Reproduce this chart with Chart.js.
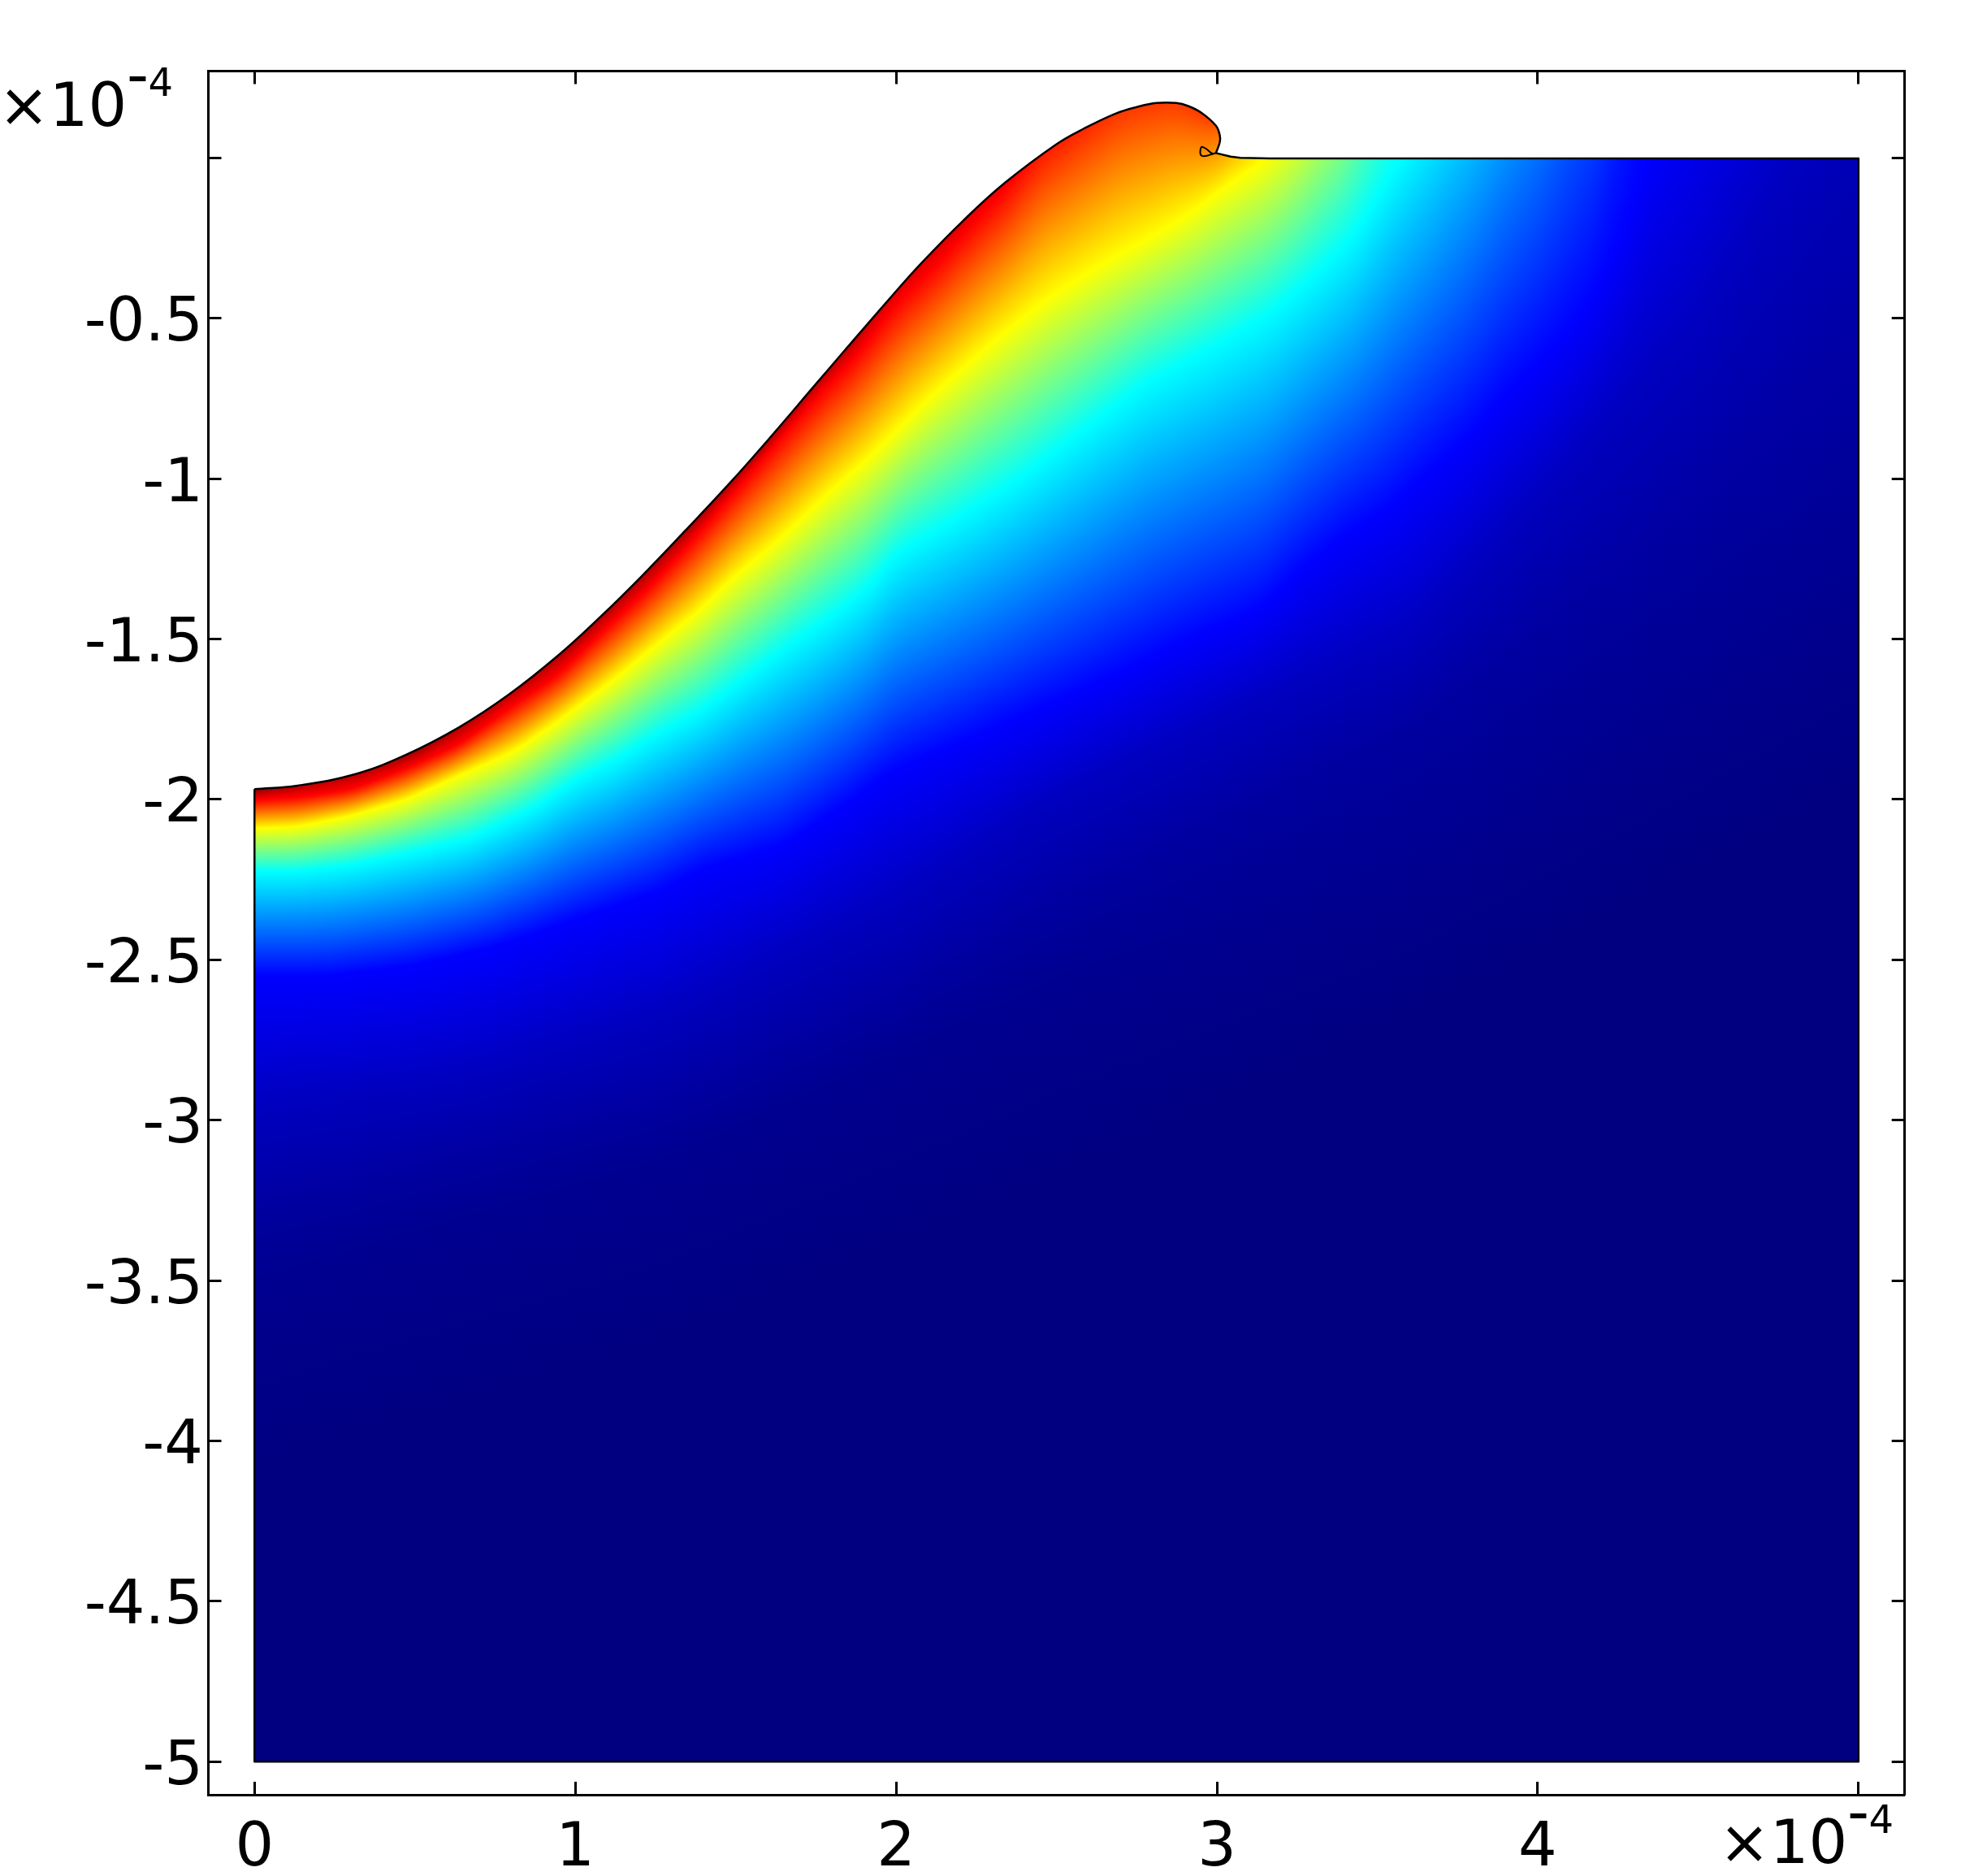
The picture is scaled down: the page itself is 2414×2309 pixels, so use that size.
<!DOCTYPE html>
<html>
<head>
<meta charset="utf-8">
<style>html,body{margin:0;padding:0;background:#fff}canvas{display:block}</style>
<script src="https://cdn.jsdelivr.net/npm/chart.js@4"></script>
</head>
<body>
<canvas id="c" width="2414" height="2309"></canvas>
<script>
// Axis ticks (units of 1e-4)
const xTicks = [0,1,2,3,4,5];
const xTickLabels = ['0','1','2','3','4',''];
const yTicks = [0,-0.5,-1,-1.5,-2,-2.5,-3,-3.5,-4,-4.5,-5];
const yTickLabels = ['','-0.5','-1','-1.5','-2','-2.5','-3','-3.5','-4','-4.5','-5'];

// Domain outline pieces (x, y)
const surfaceX = [0,0.134,0.315,0.47,0.638,0.793,0.948,1.077,1.206,1.342,1.486,1.615,1.744,1.835,1.977,2.08,2.21,2.339,2.499,2.583,2.684,2.752,2.811,2.874,2.912,2.954,2.997,3.009,3.009,2.997];
const surfaceY = [-1.968,-1.957,-1.921,-1.862,-1.775,-1.673,-1.55,-1.432,-1.305,-1.163,-1.009,-0.863,-0.712,-0.606,-0.442,-0.327,-0.195,-0.078,0.042,0.09,0.138,0.159,0.171,0.171,0.161,0.139,0.1,0.07,0.049,0.015];
const loopX = [2.997,2.971,2.954,2.948,2.952,2.967,2.984,2.997];
const loopY = [0.015,0.007,0.006,0.015,0.034,0.028,0.014,0.015];
const flatX = [2.997,3.043,3.073,3.165,5];
const flatY = [0.015,0.004,0,-0.002,-0.002];
const boxX = [5,5,0,0];
const boxY = [-0.002,-5,-5,-1.968];

// Colour contours of the field (above-surface parts set the surface colour)
const darkX = [0,0.5,1,1.375,1.615,1.874,2.003,2.339,2.455,2.713,3.2,3.4,3.5,3.573,4.336,5];
const darkY = [-1.966,-1.838,-1.475,-1.1,-0.84,-0.5,-0.283,0.1,0.37,0.6,0.7,1,1.4,1.8,7.5,11.5];
const redX = [0,0.134,0.302,0.47,0.638,0.793,0.948,1.077,1.232,1.375,1.615,1.744,1.874,2.003,2.132,2.261,2.339,2.455,2.713,2.87,3,3.2,3.4,3.5,3.573,4.336,5];
const redY = [-2.002,-1.993,-1.968,-1.905,-1.828,-1.716,-1.61,-1.484,-1.339,-1.183,-0.903,-0.756,-0.621,-0.451,-0.326,-0.18,-0.1,0.067,0.275,0.29,0.19,0.4,0.8,1.2,1.6,7,11];
const yellowX = [0,0.134,0.302,0.47,0.651,0.806,0.961,1.129,1.258,1.387,1.491,1.628,1.783,1.925,2.093,2.287,2.468,2.649,2.791,2.907,3.036,3.152,3.25,3.4,3.5,3.573,3.65,3.8,4.336,5];
const yellowY = [-2.09,-2.085,-2.051,-2.002,-1.92,-1.852,-1.746,-1.62,-1.513,-1.411,-1.309,-1.197,-1.05,-0.926,-0.756,-0.586,-0.44,-0.326,-0.247,-0.179,-0.083,-0.004,0.1025,0.34,0.73,1.2,1.3,1.6,6,10];
const cyanX = [0,0.134,0.302,0.483,0.664,0.871,1,1.129,1.258,1.387,1.517,1.646,1.775,1.904,2.003,2.197,2.39,2.584,2.778,2.972,3.166,3.295,3.424,3.512,3.573,3.65,3.8,4,4.2,4.336,5];
const cyanY = [-2.225,-2.225,-2.206,-2.167,-2.124,-2.027,-1.939,-1.876,-1.794,-1.726,-1.629,-1.532,-1.445,-1.348,-1.231,-1.118,-0.994,-0.847,-0.7,-0.598,-0.485,-0.372,-0.247,-0.1,0,0.11,0.364,0.827,1.73,5,8];
const blueX = [0,0.225,0.483,0.741,1,1.258,1.387,1.646,1.827,1.992,2.3,2.6,2.907,3.134,3.263,3.393,3.522,3.651,3.78,3.909,4.039,4.168,4.297,4.336,5];
const blueY = [-2.55,-2.55,-2.521,-2.463,-2.375,-2.288,-2.22,-2.143,-2.027,-1.91,-1.78,-1.65,-1.503,-1.408,-1.284,-1.182,-1.103,-0.99,-0.877,-0.73,-0.606,-0.447,-0.165,0,1.2];
const c0X = [0,0.65,1.29,2,2.47,3.1,3.6,4,4.5,4.8,5];
const c0Y = [-2.95,-2.85,-2.65,-2.3,-2,-1.7,-1.47,-1.05,-0.5,0,0.35];
const a0X = [0,0.65,1.29,2,2.47,3.1,3.6,4.2,5];
const a0Y = [-3.28,-3.12,-2.95,-2.62,-2.34,-2.02,-1.78,-1.35,-0.75];
const n90X = [0,1.29,2.53,3.6,5];
const n90Y = [-3.5,-3.12,-2.55,-2.2,-1.3];
const navyX = [0,1.29,2.5,3.8,5];
const navyY = [-4.1,-3.7,-3.2,-2.6,-2];

const contours = [[darkX,darkY,'#800000'],[redX,redY,'#ff0000'],[yellowX,yellowY,'#ffff00'],[cyanX,cyanY,'#00ffff'],[blueX,blueY,'#0000ff'],[c0X,c0Y,'#0000c0'],[a0X,a0Y,'#0000a0'],[n90X,n90Y,'#000090'],[navyX,navyY,'#000080']];

function at(xs, ys, x){
  if (x <= xs[0]) return ys[0];
  for (let i = 1; i < xs.length; i++) {
    if (x <= xs[i]) return ys[i-1] + (ys[i]-ys[i-1])*(x-xs[i-1])/(xs[i]-xs[i-1]);
  }
  return ys[ys.length-1];
}

const SMOOTH = 16;
const fieldPlugin = {
  id: 'field',
  beforeDatasetsDraw(chart){
    const {ctx, scales:{x, y}} = chart;
    const line = chart.getDatasetMeta(0);
    line.dataset.updateControlPoints(chart.chartArea, 'x');
    const pts = line.data;
    ctx.save();
    ctx.beginPath();
    ctx.moveTo(pts[0].x, pts[0].y);
    for (let i = 1; i < pts.length; i++) {
      ctx.bezierCurveTo(pts[i-1].cp2x, pts[i-1].cp2y, pts[i].cp1x, pts[i].cp1y, pts[i].x, pts[i].y);
    }
    flatX.forEach((v,i)=>ctx.lineTo(x.getPixelForValue(v), y.getPixelForValue(flatY[i])));
    boxX.forEach((v,i)=>ctx.lineTo(x.getPixelForValue(v), y.getPixelForValue(boxY[i])));
    ctx.closePath();
    ctx.clip();
    const left = Math.floor(x.getPixelForValue(0));
    const right = Math.ceil(x.getPixelForValue(5));
    const bottom = Math.ceil(y.getPixelForValue(-5));
    const n = right - left;
    const raw = contours.map(c => {
      const a = [];
      for (let k = 0; k < n; k++) a.push(y.getPixelForValue(at(c[0], c[1], x.getValueForPixel(left + k + 0.5))));
      return a;
    });
    const smooth = raw.map(a => a.map((_, k) => {
      const r = Math.min(SMOOTH, k, n - 1 - k);
      let s = 0;
      for (let j = k - r; j <= k + r; j++) s += a[j];
      return s / (2*r + 1);
    }));
    for (let k = 0; k < n; k++) {
      const pys = smooth.map(a => a[k]);
      const y0 = pys[0] - 1, y1 = pys[pys.length-1] + 1;
      const g = ctx.createLinearGradient(0, y0, 0, y1);
      let last = 0;
      pys.forEach((p,i)=>{
        const t = Math.max(last, Math.min(1, (p - y0)/(y1 - y0)));
        g.addColorStop(t, contours[i][2]);
        last = t;
      });
      ctx.fillStyle = g;
      ctx.fillRect(left + k, 90, 1, bottom - 90);
    }
    ctx.restore();
  }
};

// Exponent text, one line per run: text, size, x, baseline y
const exponentRuns = [['×10',75,-2,155],['-',75,156,118],['4',48,182.5,118]];
const exponentOffsets = [[0,0],[2118,2138]];
const exponentPlugin = {
  id: 'exponent',
  afterDraw(chart){
    const ctx = chart.ctx;
    ctx.save();
    ctx.fillStyle = '#000';
    ctx.textAlign = 'left';
    ctx.textBaseline = 'alphabetic';
    exponentOffsets.forEach(o=>{
      exponentRuns.forEach(r=>{
        ctx.font = r[1] + 'px "DejaVu Sans"';
        ctx.fillText(r[0], r[2]+o[0], r[3]+o[1]);
      });
    });
    ctx.restore();
  }
};

const axisCommon = {
  type: 'linear',
  border: {display:true, color:'#000', width:3},
  grid: {drawOnChartArea:false, drawTicks:true, tickLength:-16, tickWidth:3, tickColor:'#000'}
};
const setX = a => { a.ticks = xTicks.map(v=>({value:v})); };
const setY = a => { a.ticks = yTicks.map(v=>({value:v})); };
const tickFont = {family:'"DejaVu Sans"', size:75};

const toPts = (xs, ys) => xs.map((v,i)=>({x:v,y:ys[i]}));
const outlineStyle = {showLine:true, fill:false, pointRadius:0, borderColor:'#000', borderWidth:2.5, borderJoinStyle:'round'};
const contourSets = contours.map(c => ({label:'contour', showLine:false, pointRadius:0, data:toPts(c[0], c[1])}));

new Chart(document.getElementById('c').getContext('2d'), {
  type:'scatter',
  data:{datasets:[
    {label:'surface', data:toPts(surfaceX,surfaceY), tension:0.4, ...outlineStyle},
    {label:'loop', data:toPts(loopX,loopY), tension:0.3, ...outlineStyle, borderWidth:2},
    {label:'flat', data:toPts(flatX,flatY), tension:0, ...outlineStyle},
    {label:'box', data:toPts(boxX,boxY), tension:0, ...outlineStyle},
    ...contourSets
  ]},
  options:{
    responsive:false, animation:false, devicePixelRatio:1,
    layout:{padding:0},
    plugins:{legend:{display:false}, tooltip:{enabled:false}, title:{display:false}},
    scales:{
      x:{...axisCommon, position:'bottom', min:-0.1438, max:5.144,
         afterBuildTicks:setX, afterFit:s=>{s.height=100;},
         ticks:{display:true, autoSkip:false, maxRotation:0, font:tickFont, color:'#000', padding:39,
                callback:(v,i)=>xTickLabels[i]}},
      xTop:{...axisCommon, position:'top', min:-0.1438, max:5.144,
         afterBuildTicks:setX, afterFit:s=>{s.height=87.5;}, ticks:{display:false}},
      y:{...axisCommon, position:'left', min:-5.103, max:0.2705,
         afterBuildTicks:setY, afterFit:s=>{s.width=256.5;},
         ticks:{display:true, autoSkip:false, font:tickFont, color:'#000', padding:22.5, labelOffset:8,
                callback:(v,i)=>yTickLabels[i]}},
      yRight:{...axisCommon, position:'right', min:-5.103, max:0.2705,
         afterBuildTicks:setY, afterFit:s=>{s.width=69.3;}, ticks:{display:false}}
    }
  },
  plugins:[fieldPlugin, exponentPlugin]
});
</script>
</body>
</html>
